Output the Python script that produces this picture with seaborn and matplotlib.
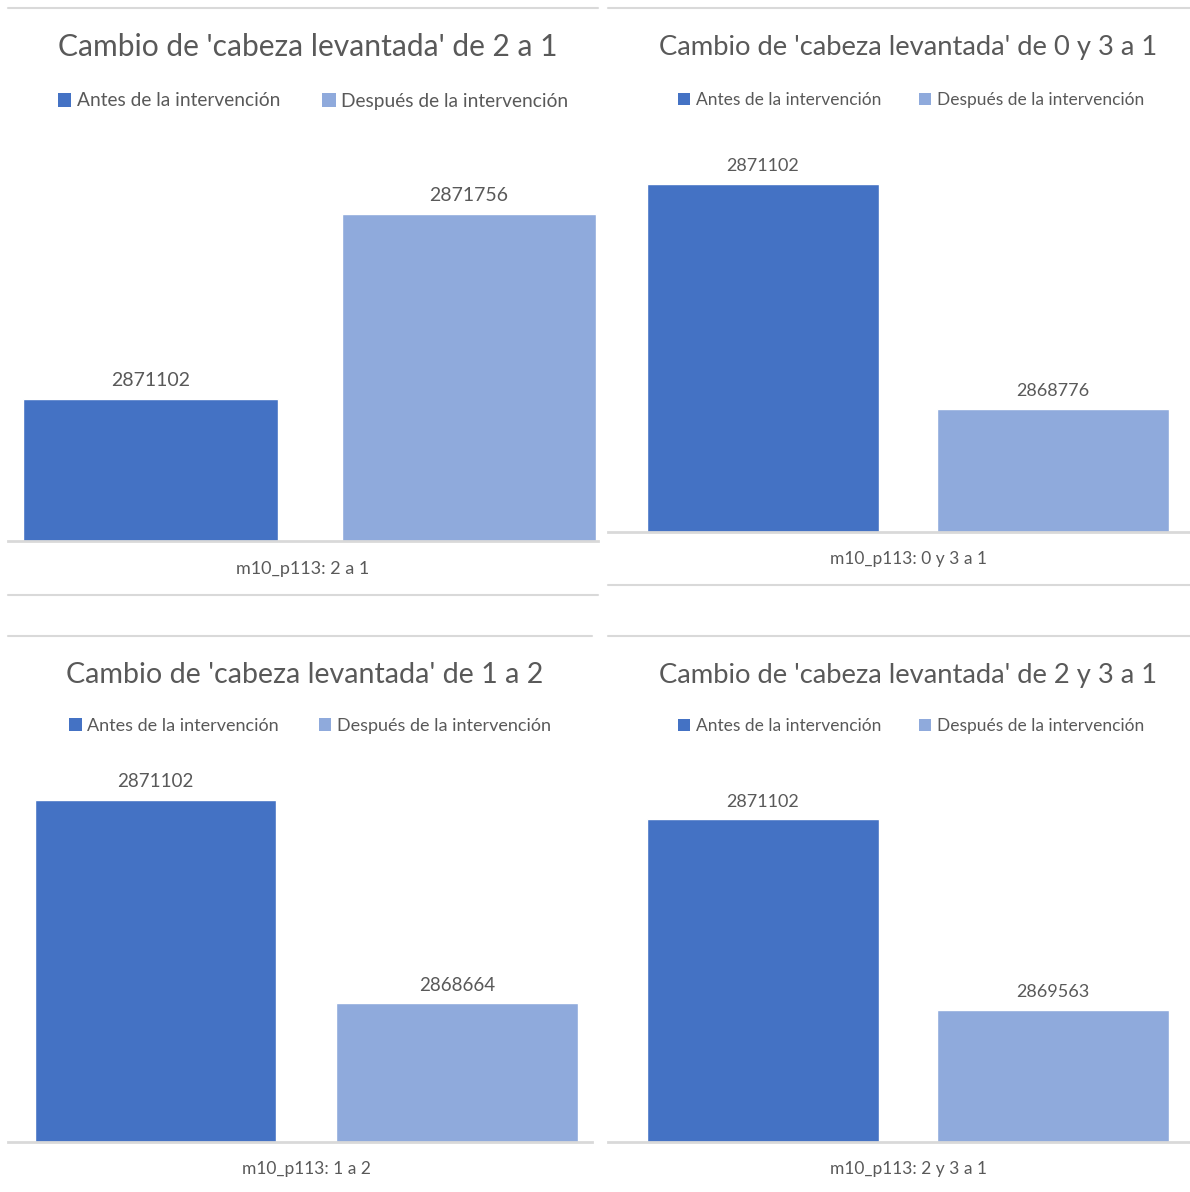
import matplotlib as mpl
import matplotlib.pyplot as plt
from matplotlib.lines import Line2D
from matplotlib.patches import Patch
import pandas as pd
import seaborn as sns

# data
titles = [
    "Cambio de 'cabeza levantada' de 2 a 1",
    "Cambio de 'cabeza levantada' de 0 y 3 a 1",
    "Cambio de 'cabeza levantada' de 1 a 2",
    "Cambio de 'cabeza levantada' de 2 y 3 a 1",
]
categories = ["m10_p113: 2 a 1", "m10_p113: 0 y 3 a 1", "m10_p113: 1 a 2", "m10_p113: 2 y 3 a 1"]
series = ["Antes de la intervención", "Después de la intervención"]
antes = [2871102, 2871102, 2871102, 2871102]
despues = [2871756, 2868776, 2868664, 2869563]

# layout (pixels of the 1190x1192 canvas)
W, H = 1190, 1192
colors = ["#4472C4", "#8FAADC"]
grey = "#D9D9D9"
txt = "#595959"
panels = [
    # x0, x1, ybase, ytop, xlim, ylim, title / legend / category label centres, font sizes
    dict(x0=8, x1=598, yb=541, yt=145, xlim=(-0.447, 1.405), ylim=(2870600, 2872000),
         tt=(308, 46), lg=(313, 101), cl=(303, 569), fs_t=21.6, fs_l=13.8, fs_d=14, fs_c=13),
    dict(x0=608, x1=1190, yb=532, yt=145, xlim=(-0.534, 1.472), ylim=(2867500, 2871500),
         tt=(908, 46), lg=(911, 100), cl=(908, 559), fs_t=19.7, fs_l=12.5, fs_d=13, fs_c=12.5),
    dict(x0=8, x1=592, yb=1142, yt=767, xlim=(-0.489, 1.448), ylim=(2867000, 2871500),
         tt=(305, 674), lg=(310, 726), cl=(306, 1169), fs_t=20.6, fs_l=13, fs_d=13.5, fs_c=12.5),
    dict(x0=608, x1=1190, yb=1142, yt=770, xlim=(-0.534, 1.472), ylim=(2868500, 2871500),
         tt=(908, 674), lg=(911, 726), cl=(908, 1169), fs_t=19.7, fs_l=12.5, fs_d=13, fs_c=12.5),
]

sns.set_theme(style="white")
plt.rcParams['font.family'] = ['Lato', 'DejaVu Sans']

fig = plt.figure(figsize=(W / 100, H / 100), dpi=100)


def fx(x):
    return x / W


def fy(y):
    return 1 - y / H


for i, p in enumerate(panels):
    ax = fig.add_axes([fx(p['x0']), fy(p['yb']), (p['x1'] - p['x0']) / W, (p['yb'] - p['yt']) / H])
    df = pd.DataFrame({'serie': series, 'valor': [antes[i], despues[i]]})
    sns.barplot(data=df, x='serie', y='valor', hue='serie', palette=colors,
                saturation=1, width=0.8, legend=False, ax=ax)
    ax.set_xlim(*p['xlim'])
    ax.set_ylim(*p['ylim'])
    for c in ax.containers:
        ax.bar_label(c, fmt='%d', padding=7, fontsize=p['fs_d'], color=txt)
    ax.set_xticks([])
    ax.set_yticks([])
    ax.set_xlabel('')
    ax.set_ylabel('')
    for s in ['top', 'left', 'right']:
        ax.spines[s].set_visible(False)
    ax.spines['bottom'].set_color(grey)
    ax.spines['bottom'].set_linewidth(2)
    ax.patch.set_alpha(0)

    fig.text(fx(p['tt'][0]), fy(p['tt'][1] + 1), titles[i], ha='center', va='center',
             fontsize=p['fs_t'], color=txt)
    fig.text(fx(p['cl'][0]), fy(p['cl'][1]), categories[i], ha='center', va='center',
             fontsize=p['fs_c'], color=txt)
    handles = [Patch(facecolor=c, edgecolor='none') for c in colors]
    fig.legend(handles, series, loc='center', bbox_to_anchor=(fx(p['lg'][0]), fy(p['lg'][1])),
               ncol=2, frameon=False, fontsize=p['fs_l'], labelcolor=txt,
               handlelength=0.7, handleheight=0.7, handletextpad=0.3, columnspacing=2.2)

# separator lines between the chart boxes
seps = [(8, 598, 8), (608, 1190, 8), (8, 598, 595), (608, 1190, 585),
        (8, 592, 636), (608, 1190, 636)]
for x0, x1, y in seps:
    fig.add_artist(Line2D([fx(x0), fx(x1)], [fy(y), fy(y)], color=grey, lw=1.5))

fig.savefig('out.png', dpi=100, facecolor='white')
